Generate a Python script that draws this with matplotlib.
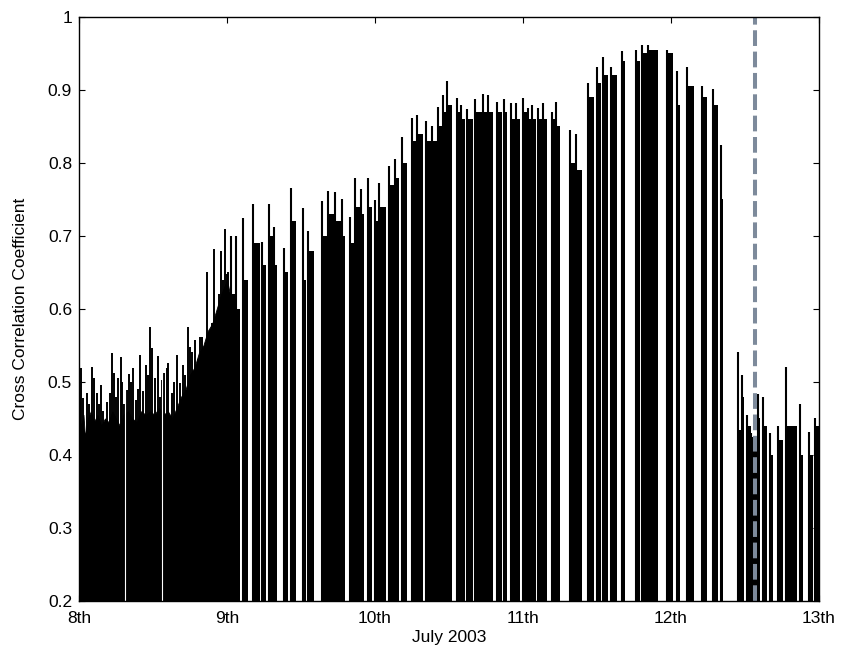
"""
Cross correlation coefficient over 8-13 July 2003
"""
import matplotlib
matplotlib.use("Agg")
import matplotlib.pyplot as plt

# first day: continuous record -> solid body level plus individual spikes
body_day = [8.0, 8.015, 8.03, 8.04, 8.06, 8.08, 8.1, 8.125, 8.15, 8.175,
            8.2, 8.225, 8.25, 8.275, 8.3, 8.33, 8.36, 8.39, 8.42, 8.45,
            8.48, 8.51, 8.54, 8.57, 8.6, 8.63, 8.66, 8.69, 8.72, 8.75,
            8.78, 8.81, 8.84, 8.87, 8.9, 8.93, 8.96, 8.98, 9.0, 9.02]
body_cc = [0.45, 0.44, 0.455, 0.425, 0.45, 0.46, 0.445, 0.455, 0.44, 0.45,
           0.445, 0.46, 0.45, 0.44, 0.455, 0.46, 0.45, 0.445, 0.46, 0.455,
           0.46, 0.455, 0.465, 0.455, 0.46, 0.45, 0.465, 0.48, 0.49, 0.51,
           0.52, 0.54, 0.55, 0.57, 0.58, 0.60, 0.62, 0.63, 0.64, 0.62]

spike_day = [8.004, 8.011, 8.025, 8.052, 8.070, 8.086, 8.101, 8.120, 8.135,
             8.148, 8.165, 8.187, 8.209, 8.221, 8.236, 8.252, 8.266, 8.281,
             8.289, 8.305, 8.322, 8.338, 8.351, 8.365, 8.385, 8.400, 8.412,
             8.434, 8.452, 8.464, 8.480, 8.495, 8.514, 8.536, 8.550, 8.559,
             8.575, 8.592, 8.603, 8.626, 8.645, 8.660, 8.682, 8.700, 8.716,
             8.739, 8.750, 8.764, 8.786, 8.806, 8.818, 8.833, 8.848, 8.867,
             8.885, 8.897, 8.912, 8.932, 8.945, 8.957, 8.972, 8.984, 9.000,
             9.010]
spike_cc = [0.48, 0.519, 0.478, 0.485, 0.47, 0.521, 0.505, 0.485, 0.47,
            0.496, 0.46, 0.473, 0.485, 0.540, 0.512, 0.48, 0.505, 0.534,
            0.50, 0.47, 0.489, 0.511, 0.500, 0.519, 0.475, 0.49, 0.537,
            0.487, 0.523, 0.51, 0.576, 0.546, 0.505, 0.535, 0.48, 0.503,
            0.512, 0.519, 0.526, 0.485, 0.50, 0.537, 0.498, 0.523, 0.51,
            0.576, 0.548, 0.541, 0.558, 0.531, 0.562, 0.561, 0.535, 0.651,
            0.567, 0.581, 0.682, 0.587, 0.62, 0.680, 0.64, 0.71, 0.648,
            0.65]

# short dropouts inside the continuous part
dropout_day = [8.311, 8.561]

# from the 9th on the record breaks up into bursts
burst_start = [9.027, 9.064, 9.106, 9.176, 9.236, 9.284, 9.318, 9.385, 9.432,
               9.511, 9.547, 9.640, 9.679, 9.733, 9.775, 9.831, 9.868, 9.904,
               9.953, 10.000, 10.029, 10.097, 10.132, 10.180, 10.250, 10.286,
               10.345, 10.385, 10.428, 10.459, 10.488, 10.552, 10.579, 10.620,
               10.676, 10.728, 10.764, 10.826, 10.872, 10.917, 10.951, 10.998,
               11.032, 11.061, 11.103, 11.137, 11.194, 11.220, 11.318, 11.361,
               11.439, 11.498, 11.539, 11.595, 11.667, 11.764, 11.802, 11.845,
               11.971, 12.039, 12.106, 12.207, 12.286, 12.336, 12.455, 12.480,
               12.511, 12.540, 12.585, 12.624, 12.669, 12.725, 12.777, 12.872,
               12.932, 12.973]
burst_end = [9.057, 9.088, 9.142, 9.223, 9.264, 9.311, 9.338, 9.412, 9.466,
             9.534, 9.588, 9.674, 9.730, 9.768, 9.797, 9.858, 9.899, 9.926,
             9.978, 10.022, 10.074, 10.128, 10.160, 10.214, 10.282, 10.322,
             10.382, 10.419, 10.456, 10.484, 10.518, 10.574, 10.608, 10.664,
             10.721, 10.759, 10.795, 10.856, 10.894, 10.946, 10.980, 11.029,
             11.057, 11.088, 11.133, 11.160, 11.216, 11.250, 11.355, 11.397,
             11.480, 11.525, 11.576, 11.633, 11.689, 11.791, 11.840, 11.914,
             12.016, 12.061, 12.155, 12.241, 12.320, 12.353, 12.478, 12.495,
             12.540, 12.585, 12.601, 12.651, 12.687, 12.759, 12.849, 12.894,
             12.961, 13.000]
burst_peak = [0.70, 0.70, 0.724, 0.744, 0.692, 0.744, 0.713, 0.683, 0.766,
              0.738, 0.707, 0.748, 0.762, 0.760, 0.750, 0.726, 0.779, 0.764,
              0.779, 0.749, 0.772, 0.796, 0.806, 0.836, 0.861, 0.866,
              0.857, 0.850, 0.877, 0.893, 0.912, 0.889, 0.880, 0.874,
              0.888, 0.895, 0.893, 0.884, 0.888, 0.882, 0.882, 0.889,
              0.876, 0.879, 0.876, 0.882, 0.870, 0.884, 0.845, 0.840,
              0.909, 0.931, 0.945, 0.932, 0.953, 0.955, 0.962, 0.962,
              0.955, 0.926, 0.932, 0.905, 0.901, 0.824, 0.541, 0.51,
              0.455, 0.43, 0.484, 0.48, 0.43, 0.44, 0.52, 0.47,
              0.432, 0.45]
burst_level = [0.62, 0.60, 0.64, 0.69, 0.66, 0.70, 0.66, 0.65, 0.72,
               0.64, 0.68, 0.70, 0.73, 0.72, 0.70, 0.69, 0.74, 0.73,
               0.74, 0.72, 0.74, 0.77, 0.78, 0.80, 0.83, 0.84,
               0.83, 0.83, 0.85, 0.87, 0.88, 0.87, 0.86, 0.86,
               0.87, 0.87, 0.87, 0.87, 0.87, 0.86, 0.86, 0.87,
               0.86, 0.86, 0.86, 0.86, 0.86, 0.85, 0.80, 0.79,
               0.89, 0.91, 0.92, 0.92, 0.94, 0.94, 0.95, 0.955,
               0.95, 0.88, 0.905, 0.89, 0.88, 0.75, 0.434, 0.48,
               0.44, 0.425, 0.45, 0.44, 0.40, 0.42, 0.44, 0.40,
               0.40, 0.44]

event_day = 12.568

day_ticks = [8, 9, 10, 11, 12, 13]
day_labels = ['8th', '9th', '10th', '11th', '12th', '13th']
cc_ticks = [0.2, 0.3, 0.4, 0.5, 0.6, 0.7, 0.8, 0.9, 1.0]
cc_labels = ['0.2', '0.3', '0.4', '0.5', '0.6', '0.7', '0.8', '0.9', '1']

plt.rcParams['font.family'] = ['Liberation Sans', 'DejaVu Sans']
plt.rcParams['font.size'] = 12.5

fig = plt.figure(figsize=(8.46, 6.64), dpi=100)
ax = fig.add_axes([0.0934, 0.0949, 0.8747, 0.8795])

y0 = 0.2
# continuous first day
ax.fill_between(body_day, y0, body_cc, color='k', lw=0.6, edgecolor='k')
ax.vlines(spike_day, y0, spike_cc, color='k', lw=1.4)
ax.vlines(dropout_day, y0, 0.7, color='w', lw=0.8)

# bursts: block up to the running level, spike at the opening peak
widths = [e - s for s, e in zip(burst_start, burst_end)]
heights = [lv - y0 for lv in burst_level]
ax.bar(burst_start, heights, width=widths, bottom=y0, align='edge',
       color='k', lw=0)
ax.vlines(burst_start, y0, burst_peak, color='k', lw=1.5)

ax.axvline(event_day, color='#7d8a9b', lw=2.9, dashes=(3.9, 1.4))

ax.set_xlim(8, 13)
ax.set_ylim(0.2, 1.0)
ax.set_xticks(day_ticks)
ax.set_xticklabels(day_labels)
ax.set_yticks(cc_ticks)
ax.set_yticklabels(cc_labels)
ax.tick_params(direction='in', top=True, right=True, length=4, width=0.8)
ax.tick_params(axis='x', pad=7)
ax.tick_params(axis='y', pad=5)
for sp in ax.spines.values():
    sp.set_linewidth(1.0)
ax.set_xlabel('July 2003', labelpad=3)
ax.set_ylabel('Cross Correlation Coefficient', labelpad=14)

fig.savefig('out.png', dpi=100)
